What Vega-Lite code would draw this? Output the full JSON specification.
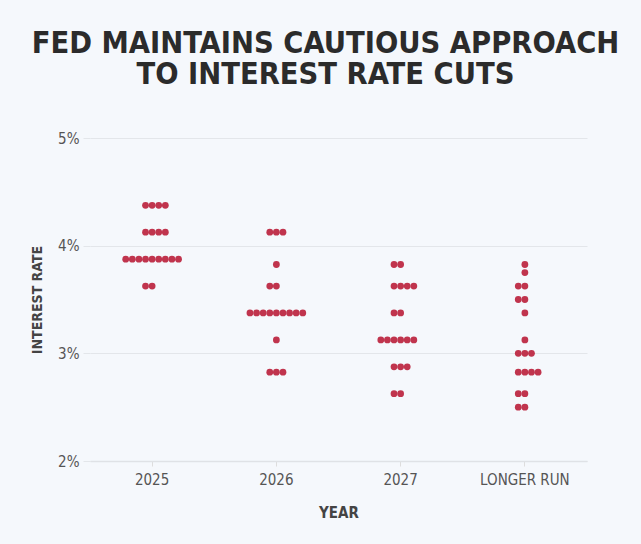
{
  "$schema": "https://vega.github.io/schema/vega-lite/v6.json",
  "autosize": {"type": "none"},
  "width": 497,
  "height": 323,
  "padding": {"left": 90, "top": 138, "right": 54, "bottom": 83},
  "background": "#f5f8fc",
  "title": {
    "text": ["FED MAINTAINS CAUTIOUS APPROACH", "TO INTEREST RATE CUTS"],
    "anchor": "middle",
    "frame": "group",
    "dx": -13,
    "offset": 41,
    "font": "DejaVu Sans Condensed, Roboto, sans-serif",
    "fontSize": 30.5,
    "fontWeight": "bold",
    "lineHeight": 31,
    "color": "#2b2b2b"
  },
  "config": {
    "view": {"stroke": null},
    "font": "DejaVu Sans Condensed, Roboto, sans-serif"
  },
  "data": {
    "values": [
      {"year": "2025", "rate": 4.375}, {"year": "2025", "rate": 4.375}, {"year": "2025", "rate": 4.375}, {"year": "2025", "rate": 4.375},
      {"year": "2025", "rate": 4.125}, {"year": "2025", "rate": 4.125}, {"year": "2025", "rate": 4.125}, {"year": "2025", "rate": 4.125},
      {"year": "2025", "rate": 3.875}, {"year": "2025", "rate": 3.875}, {"year": "2025", "rate": 3.875}, {"year": "2025", "rate": 3.875}, {"year": "2025", "rate": 3.875}, {"year": "2025", "rate": 3.875}, {"year": "2025", "rate": 3.875}, {"year": "2025", "rate": 3.875}, {"year": "2025", "rate": 3.875},
      {"year": "2025", "rate": 3.625}, {"year": "2025", "rate": 3.625},
      {"year": "2026", "rate": 4.125}, {"year": "2026", "rate": 4.125}, {"year": "2026", "rate": 4.125},
      {"year": "2026", "rate": 3.825},
      {"year": "2026", "rate": 3.625}, {"year": "2026", "rate": 3.625},
      {"year": "2026", "rate": 3.375}, {"year": "2026", "rate": 3.375}, {"year": "2026", "rate": 3.375}, {"year": "2026", "rate": 3.375}, {"year": "2026", "rate": 3.375}, {"year": "2026", "rate": 3.375}, {"year": "2026", "rate": 3.375}, {"year": "2026", "rate": 3.375}, {"year": "2026", "rate": 3.375},
      {"year": "2026", "rate": 3.125},
      {"year": "2026", "rate": 2.825}, {"year": "2026", "rate": 2.825}, {"year": "2026", "rate": 2.825},
      {"year": "2027", "rate": 3.825}, {"year": "2027", "rate": 3.825},
      {"year": "2027", "rate": 3.625}, {"year": "2027", "rate": 3.625}, {"year": "2027", "rate": 3.625}, {"year": "2027", "rate": 3.625},
      {"year": "2027", "rate": 3.375}, {"year": "2027", "rate": 3.375},
      {"year": "2027", "rate": 3.125}, {"year": "2027", "rate": 3.125}, {"year": "2027", "rate": 3.125}, {"year": "2027", "rate": 3.125}, {"year": "2027", "rate": 3.125}, {"year": "2027", "rate": 3.125},
      {"year": "2027", "rate": 2.875}, {"year": "2027", "rate": 2.875}, {"year": "2027", "rate": 2.875},
      {"year": "2027", "rate": 2.625}, {"year": "2027", "rate": 2.625},
      {"year": "LONGER RUN", "rate": 3.825},
      {"year": "LONGER RUN", "rate": 3.75},
      {"year": "LONGER RUN", "rate": 3.625}, {"year": "LONGER RUN", "rate": 3.625},
      {"year": "LONGER RUN", "rate": 3.5}, {"year": "LONGER RUN", "rate": 3.5},
      {"year": "LONGER RUN", "rate": 3.375},
      {"year": "LONGER RUN", "rate": 3.125},
      {"year": "LONGER RUN", "rate": 3.0}, {"year": "LONGER RUN", "rate": 3.0}, {"year": "LONGER RUN", "rate": 3.0},
      {"year": "LONGER RUN", "rate": 2.825}, {"year": "LONGER RUN", "rate": 2.825}, {"year": "LONGER RUN", "rate": 2.825}, {"year": "LONGER RUN", "rate": 2.825},
      {"year": "LONGER RUN", "rate": 2.625}, {"year": "LONGER RUN", "rate": 2.625},
      {"year": "LONGER RUN", "rate": 2.5}, {"year": "LONGER RUN", "rate": 2.5}
    ]
  },
  "transform": [
    {"window": [{"op": "row_number", "as": "rank"}, {"op": "count", "as": "n"}], "groupby": ["year", "rate"], "frame": [null, null]},
    {"calculate": "(datum.n == 4 ? -1 : -floor(datum.n / 2)) + datum.rank - 1", "as": "slot"}
  ],
  "mark": {"type": "circle", "size": 46, "opacity": 1, "color": "#c0344d"},
  "encoding": {
    "x": {
      "field": "year",
      "type": "nominal",
      "scale": {"type": "band", "paddingInner": 0, "paddingOuter": 0},
      "axis": {
        "title": "YEAR",
        "labelAngle": 0,
        "labelFontSize": 15,
        "labelColor": "#555555",
        "labelPadding": 6,
        "tickColor": "#dddddd",
        "tickSize": 5,
        "domainColor": "#dfe2e6",
        "domainWidth": 1.5,
        "grid": false,
        "titleFontSize": 15,
        "titleFontWeight": "bold",
        "titleColor": "#444444",
        "titlePadding": 18
      }
    },
    "xOffset": {
      "field": "slot",
      "type": "quantitative",
      "scale": {"domain": [-9.41, 9.41]}
    },
    "y": {
      "field": "rate",
      "type": "quantitative",
      "scale": {"domain": [2, 5]},
      "axis": {
        "title": "INTEREST RATE",
        "values": [2, 3, 4, 5],
        "labelExpr": "datum.value + '%'",
        "labelFontSize": 15,
        "labelColor": "#555555",
        "labelPadding": 4,
        "tickSize": 7,
        "tickColor": "#e3e6ea",
        "domain": false,
        "gridColor": "#e3e6ea",
        "gridWidth": 1,
        "titleFontSize": 14,
        "titleFontWeight": "bold",
        "titleColor": "#444444",
        "titlePadding": 13
      }
    }
  }
}
